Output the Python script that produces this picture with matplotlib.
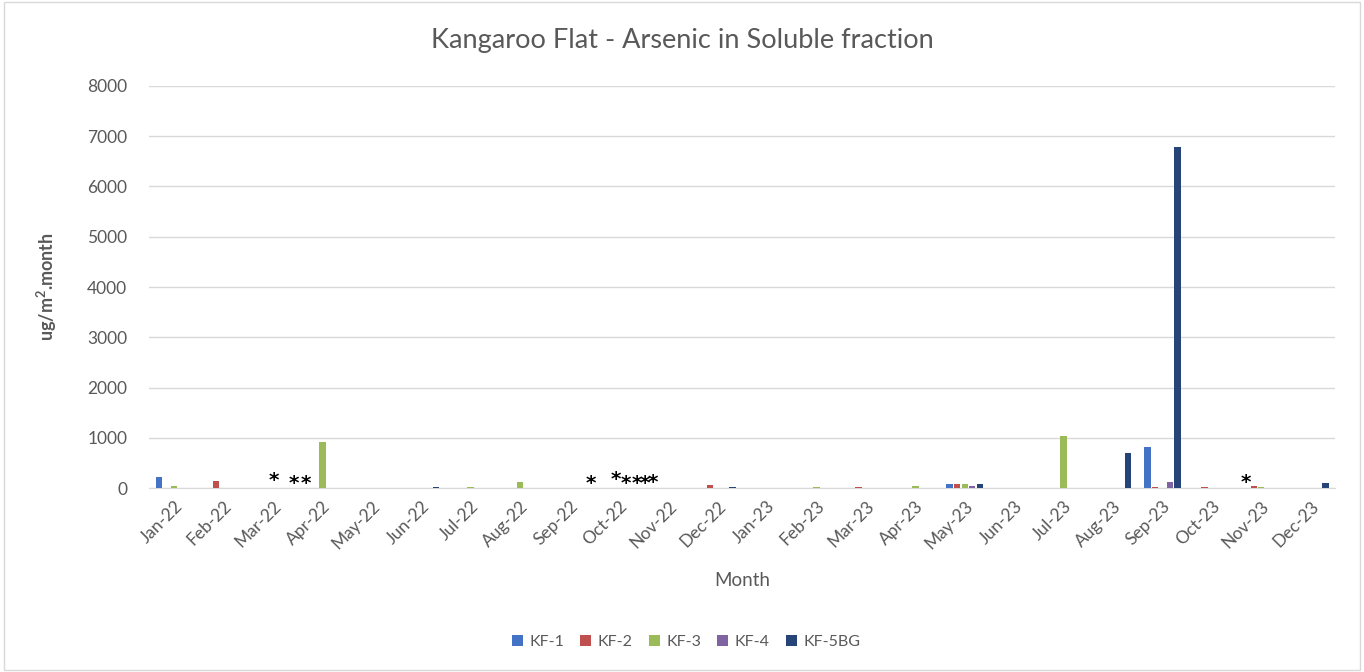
import numpy as np
import matplotlib as mpl
import matplotlib.pyplot as plt
from matplotlib.patches import Rectangle

mpl.rcParams['font.family'] = ['Lato', 'DejaVu Sans']
mpl.rcParams['mathtext.default'] = 'regular'

# data
months = ['Jan-22', 'Feb-22', 'Mar-22', 'Apr-22', 'May-22', 'Jun-22', 'Jul-22', 'Aug-22',
          'Sep-22', 'Oct-22', 'Nov-22', 'Dec-22', 'Jan-23', 'Feb-23', 'Mar-23', 'Apr-23',
          'May-23', 'Jun-23', 'Jul-23', 'Aug-23', 'Sep-23', 'Oct-23', 'Nov-23', 'Dec-23']
kf1 = [224, 0, 0, 0, 0, 0, 0, 0, 0, 0, 0, 0, 0, 0, 0, 0, 80, 0, 0, 0, 816, 0, 0, 0]
kf2 = [0, 150, 0, 0, 0, 0, 0, 0, 0, 0, 0, 60, 0, 0, 20, 0, 80, 0, 0, 0, 20, 25, 48, 0]
kf3 = [48, 0, 0, 918, 0, 0, 20, 122, 0, 0, 0, 0, 0, 20, 0, 55, 80, 0, 1041, 0, 0, 0, 27, 0]
kf4 = [0, 0, 0, 0, 0, 0, 0, 0, 0, 0, 0, 0, 0, 0, 0, 0, 50, 0, 0, 0, 122, 0, 0, 0]
kf5bg = [0, 0, 0, 0, 0, 25, 0, 0, 0, 0, 0, 25, 0, 0, 0, 0, 85, 0, 0, 700, 6790, 0, 0, 100]
series_names = ['KF-1', 'KF-2', 'KF-3', 'KF-4', 'KF-5BG']
colors = ['#4472C4', '#C0504D', '#9BBB59', '#8064A2', '#264478']

# asterisks marking missing samples (month position, value height)
star_x = [2.01, 2.415, 2.672, 8.435, 8.94, 9.14, 9.37, 9.53, 9.68, 21.69]
star_y = [150, 90, 90, 100, 170, 100, 100, 100, 110, 110]

gray = '#595959'
fig = plt.figure(figsize=(13.64, 6.72), dpi=100)
fig.add_artist(Rectangle((0.003, 0.003), 0.994, 0.994, transform=fig.transFigure,
                         fill=False, edgecolor='#d9d9d9', linewidth=1))
ax = fig.add_axes([0.1095, 0.2734, 0.8695, 0.5989])

x = np.arange(len(months))
step = 0.152
for i, (vals, name, c) in enumerate(zip([kf1, kf2, kf3, kf4, kf5bg], series_names, colors)):
    ax.bar(x + (i - 2) * step, vals, width=0.13, color=c, label=name, zorder=3)

for sx, sy in zip(star_x, star_y):
    ax.text(sx, sy, '*', ha='center', va='center', fontsize=14.5, fontweight='bold',
            color='black', family='DejaVu Sans', zorder=4)

ax.set_xlim(-0.5, len(months) - 0.5)
ax.set_ylim(0, 8000)
ax.set_yticks(range(0, 8001, 1000))
ax.grid(axis='y', color='#d9d9d9', linewidth=1, zorder=0)
for s in ['top', 'right', 'left']:
    ax.spines[s].set_visible(False)
ax.spines['bottom'].set_color('#d9d9d9')
ax.tick_params(axis='both', length=0, colors=gray, labelsize=12.5)
ax.tick_params(axis='y', pad=16)
ax.set_xticks(x)
ax.set_xticklabels(months, rotation=45, ha='right', va='top', rotation_mode='anchor')
ax.tick_params(axis='x', pad=7)

fig.text(0.5, 0.94, 'Kangaroo Flat - Arsenic in Soluble fraction', fontsize=19.5,
         color=gray, ha='center', va='center')
ax.set_ylabel('ug/m$^2$.month', fontsize=13, color=gray, fontweight='bold', labelpad=20)
ax.set_xlabel('Month', fontsize=13.5, color=gray, labelpad=14)

fig.legend(loc='center', bbox_to_anchor=(0.503, 0.045), ncol=5, frameon=False,
           handlelength=0.7, handleheight=0.7, handletextpad=0.4, columnspacing=1.0,
           fontsize=11.5, labelcolor=gray)

fig.savefig('out.png', dpi=100)
